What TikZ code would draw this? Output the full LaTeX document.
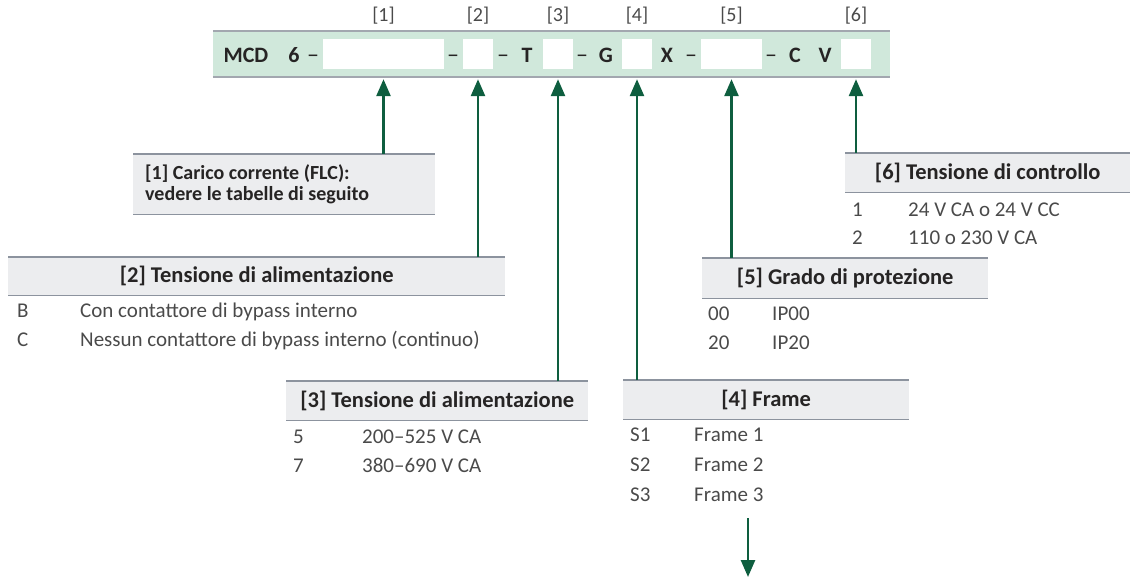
\documentclass[tikz,border=0pt]{standalone}
\usepackage{fontspec}
\setmainfont{Carlito}
\usepackage{xcolor}
\usetikzlibrary{
    arrows.meta,
    calc,
    positioning
}
\definecolor{barfill}{HTML}{D0E8DB}
\definecolor{barline}{HTML}{A2A7AF}
\definecolor{headfill}{HTML}{ECEDEF}
\definecolor{headline}{HTML}{8C939E}
\definecolor{ptrgreen}{HTML}{0E5E3F}
\definecolor{inkdark}{HTML}{262424}
\definecolor{inklight}{HTML}{4A4A4A}

\begin{document}
\begin{tikzpicture}[x=1pt, y=-1pt,
    every node/.style={inner sep=0pt, font=\fontsize{20}{21}\selectfont},
    code/.style={font=\fontsize{22}{24}\selectfont\bfseries, text=inkdark, text height=15pt, text depth=0pt},
    hyph/.style={font=\fontsize{24}{24}\selectfont, text=inkdark, text height=15pt, text depth=0pt},
    slot/.style={fill=white, minimum height=30pt},
    idx/.style={text=inklight, text height=14pt, text depth=4pt},
    head/.style={fill=headfill, minimum height=39pt, anchor=north west},
    rule/.style={draw=headline, line width=1.2pt},
    title/.style={font=\fontsize{22.5}{24}\selectfont\bfseries, text=inkdark},
    cell/.style={anchor=west, font=\fontsize{21}{22}\selectfont, text=inklight, text height=14pt, text depth=4pt},
    ptr/.style={draw=ptrgreen, line width=2.6pt, -{Triangle[length=17pt, width=14pt]}}
]
\useasboundingbox (0,0) rectangle (1130,577);

% code bar
\node[fill=barfill, minimum width=677pt, minimum height=46pt] (bar) at (551.5,54) {};
\draw[draw=barline, line width=1.5pt] (bar.north west) -- (bar.north east)
    (bar.south west) -- (bar.south east);

\node[slot, minimum width=121pt] (s1) at (383.5,54) {};
\node[slot, minimum width=30pt] (s2) at (478,54) {};
\node[slot, minimum width=30pt] (s3) at (558,54) {};
\node[slot, minimum width=30pt] (s4) at (637,54) {};
\node[slot, minimum width=61pt] (s5) at (731.5,54) {};
\node[slot, minimum width=30pt] (s6) at (856,54) {};

\node[code] (mcd) at (246,55) {MCD};
\node[code] (six) at (294,55) {6};
\node[code] (tee) at (527,55) {T};
\node[code] (gee) at (606,55) {G};
\node[code] (ex) at (667,55) {X};
\node[code] (cee) at (795,55) {C};
\node[code] (vee) at (825,55) {V};
\foreach \x/\n in {313/d1, 453/d2, 503/d3, 582/d4, 691/d5, 771/d6}
    \node[hyph] (\n) at (\x,55) {--};

\foreach \i in {1,...,6}
    \node[idx, above=13pt of s\i] (n\i) {[\i]};

% [1]
\node[head, minimum width=302pt, minimum height=60pt] (h1) at (133,154) {};
\node[font=\fontsize{20}{20.5}\selectfont\bfseries, text=inkdark, anchor=west, align=left] (t1)
    at ([xshift=12pt]h1.west)
    {[1] Carico corrente (FLC):\\vedere le tabelle di seguito};

% [2]
\node[head, minimum width=497pt, minimum height=38pt] (h2) at (8,257) {};
\node[title] (t2) at (h2.center) {[2] Tensione di alimentazione};
\node[cell] (k2a) at (17,313) {B};
\node[cell] (v2a) at (80,313) {Con contattore di bypass interno};
\node[cell] (k2b) at (17,342) {C};
\node[cell] (v2b) at (80,342) {Nessun contattore di bypass interno (continuo)};

% [3]
\node[head, minimum width=302pt] (h3) at (286,381) {};
\node[title] (t3) at (h3.center) {[3] Tensione di alimentazione};
\node[cell] (k3a) at (293,438) {5};
\node[cell] (v3a) at (362,438) {200--525 V CA};
\node[cell] (k3b) at (293,467) {7};
\node[cell] (v3b) at (362,467) {380--690 V CA};

% [4]
\node[head, minimum width=286pt] (h4) at (623,380) {};
\node[title] (t4) at (h4.center) {[4] Frame};
\node[cell] (k4a) at (630,436) {S1};
\node[cell] (v4a) at (694,436) {Frame 1};
\node[cell] (k4b) at (630,466) {S2};
\node[cell] (v4b) at (694,466) {Frame 2};
\node[cell] (k4c) at (630,496) {S3};
\node[cell] (v4c) at (694,496) {Frame 3};

% [5]
\node[head, minimum width=286pt, minimum height=40pt] (h5) at (702,258) {};
\node[title] (t5) at (h5.center) {[5] Grado di protezione};
\node[cell] (k5a) at (708,315) {00};
\node[cell] (v5a) at (772,315) {IP00};
\node[cell] (k5b) at (708,344) {20};
\node[cell] (v5b) at (772,344) {IP20};

% [6]
\node[head, minimum width=285pt] (h6) at (845,153) {};
\node[title] (t6) at (h6.center) {[6] Tensione di controllo};
\node[cell] (k6a) at (852,212) {1};
\node[cell] (v6a) at (908,212) {24 V CA o 24 V CC};
\node[cell] (k6b) at (852,240) {2};
\node[cell] (v6b) at (908,240) {110 o 230 V CA};

\foreach \i in {1,...,6}
    \draw[rule] (h\i.north west) -- (h\i.north east) (h\i.south west) -- (h\i.south east);

% pointers
\foreach \i in {1,...,6}
    \draw[ptr] (h\i.north -| s\i) -- ($(s\i |- bar.south)+(0,2)$);
\coordinate (cont) at (748,518);
\coordinate (contend) at (748,577);
\draw[ptr] (cont) -- (contend);
\end{tikzpicture}
\end{document}
